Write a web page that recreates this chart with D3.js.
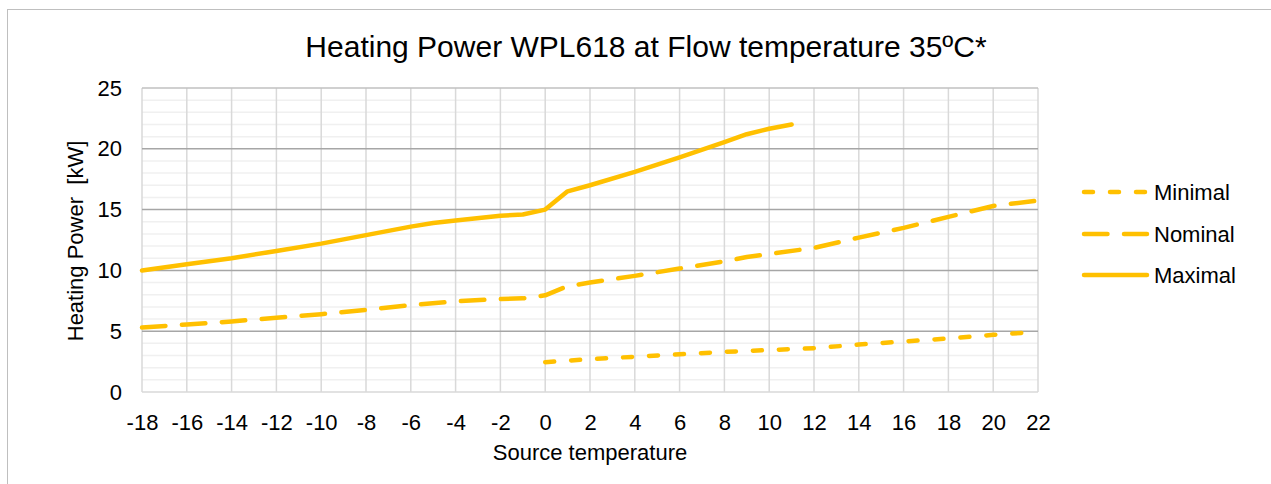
<!DOCTYPE html>
<html>
<head>
<meta charset="utf-8">
<script src="https://d3js.org/d3.v7.min.js"></script>
<style>
  body { margin: 0; background: #fff; }
  text { font-family: "Liberation Sans", Arial, sans-serif; fill: #000; }
</style>
</head>
<body>
<div id="chart"></div>
<script>
// source temperatures and heating power [kW]
var maxTemps = [-18, -16, -14, -12, -10, -8, -6, -5, -4, -2, -1, 0, 1, 2, 4, 6, 8, 9, 10, 11];
var maxPower = [10.0, 10.5, 11.0, 11.6, 12.2, 12.9, 13.6, 13.9, 14.1, 14.5, 14.6, 15.0, 16.5, 17.0, 18.1, 19.3, 20.55, 21.2, 21.65, 22.0];

var nomTemps = [-18, -16, -14, -12, -10, -8, -6, -4, -2, -1, 0, 1, 2, 4, 6, 8, 9, 10, 12, 14, 16, 18, 20, 22];
var nomPower = [5.3, 5.55, 5.8, 6.1, 6.4, 6.75, 7.15, 7.45, 7.65, 7.7, 7.95, 8.7, 9.0, 9.55, 10.15, 10.75, 11.1, 11.35, 11.85, 12.7, 13.5, 14.4, 15.3, 15.75];

var minTemps = [0, 2, 4, 6, 8, 10, 12, 14, 16, 18, 20, 22];
var minPower = [2.45, 2.7, 2.9, 3.1, 3.3, 3.45, 3.6, 3.9, 4.15, 4.4, 4.7, 4.95];

var xTicks = d3.range(-18, 23, 2);
var yTicks = [0, 5, 10, 15, 20, 25];
var seriesNames = ["Minimal", "Nominal", "Maximal"];

var width = 1271, height = 484;
var color = "#ffc000";
var dashes = { Minimal: "9 17", Nominal: "23.5 16.5", Maximal: null };

var svg = d3.select("#chart").append("svg")
  .attr("width", width)
  .attr("height", height);

// chart frame
svg.append("rect")
  .attr("x", 7.5).attr("y", 9.5)
  .attr("width", 1400).attr("height", 600)
  .attr("fill", "none")
  .attr("stroke", "#bfbfbf");

var x = d3.scaleLinear().domain([-18, 22]).range([142, 1038]);
var y = d3.scaleLinear().domain([0, 25]).range([392, 88]);

var grid = svg.append("g");

// minor horizontal gridlines
grid.selectAll(".minor")
  .data(d3.range(0, 26).filter(d => d % 5 != 0))
  .enter().append("line")
    .attr("x1", x(-18)).attr("x2", x(22))
    .attr("y1", d => y(d)).attr("y2", d => y(d))
    .attr("stroke", "#f0f0f0")
    .attr("stroke-width", 1.5);

// vertical gridlines
grid.selectAll(".vert")
  .data(xTicks)
  .enter().append("line")
    .attr("x1", d => x(d)).attr("x2", d => x(d))
    .attr("y1", y(25)).attr("y2", y(0))
    .attr("stroke", "#d9d9d9")
    .attr("stroke-width", 1.5);

// major horizontal gridlines
grid.selectAll(".major")
  .data(yTicks)
  .enter().append("line")
    .attr("x1", x(-18)).attr("x2", x(22))
    .attr("y1", d => y(d)).attr("y2", d => y(d))
    .attr("stroke", d => d == 0 ? "#d9d9d9" : (d == 25 ? "#c0c0c0" : "#a6a6a6"))
    .attr("stroke-width", 1.5);

// axes labels via d3 axes
var xAxis = svg.append("g")
  .attr("transform", "translate(0," + y(0) + ")")
  .call(d3.axisBottom(x).tickValues(xTicks).tickSize(0).tickPadding(22).tickFormat(d3.format("d")));
var yAxis = svg.append("g")
  .attr("transform", "translate(" + x(-18) + ",0)")
  .call(d3.axisLeft(y).tickValues(yTicks).tickSize(0).tickPadding(20));

[xAxis, yAxis].forEach(function(a) {
  a.select(".domain").remove();
  a.selectAll("text")
    .style("font-family", "'Liberation Sans', Arial, sans-serif")
    .style("font-size", "22px")
    .attr("fill", "#000");
});
xAxis.selectAll("text").text(d => d < 0 ? "-" + Math.abs(d) : d);

var line = d3.line()
  .x(d => x(d[0]))
  .y(d => y(d[1]));

var series = [
  { name: "Minimal", temps: minTemps, power: minPower },
  { name: "Nominal", temps: nomTemps, power: nomPower },
  { name: "Maximal", temps: maxTemps, power: maxPower }
];

svg.selectAll(".series")
  .data(series)
  .enter().append("path")
    .attr("d", s => line(d3.zip(s.temps, s.power)))
    .attr("fill", "none")
    .attr("stroke", color)
    .attr("stroke-width", 4.5)
    .attr("stroke-linejoin", "round")
    .attr("stroke-linecap", "round")
    .attr("stroke-dasharray", s => dashes[s.name]);

// title
svg.append("text")
  .attr("x", 646).attr("y", 57)
  .attr("text-anchor", "middle")
  .style("font-size", "30px")
  .text("Heating Power WPL618 at Flow temperature 35ºC*");

// axis titles
svg.append("text")
  .attr("x", 590).attr("y", 460)
  .attr("text-anchor", "middle")
  .style("font-size", "22px")
  .text("Source temperature");

svg.append("text")
  .attr("transform", "translate(83,241) rotate(-90)")
  .attr("text-anchor", "middle")
  .style("font-size", "22px")
  .style("white-space", "pre")
  .text("Heating Power  [kW]");

// legend
var legend = svg.selectAll(".legend")
  .data(seriesNames)
  .enter().append("g")
    .attr("transform", (d, i) => "translate(0," + [192, 234, 275][i] + ")");

legend.append("line")
  .attr("x1", 1084).attr("x2", 1147)
  .attr("stroke", color)
  .attr("stroke-width", 4.5)
  .attr("stroke-linecap", "round")
  .attr("stroke-dasharray", d => dashes[d]);

legend.append("text")
  .attr("x", 1154).attr("y", 8)
  .style("font-size", "22px")
  .text(d => d);
</script>
</body>
</html>
